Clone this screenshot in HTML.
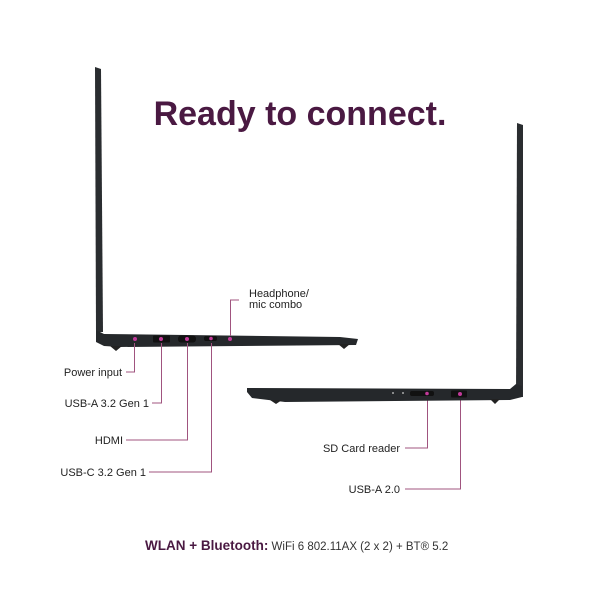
<!DOCTYPE html>
<html><head><style>
body{margin:0;width:600px;height:600px;background:#fff;overflow:hidden;font-family:"Liberation Sans",sans-serif}
</style></head><body>
<svg width="600" height="600" xmlns="http://www.w3.org/2000/svg">
<text x="300" y="125" text-anchor="middle" font-family="Liberation Sans" font-weight="bold" font-size="34" fill="#4a1942">Ready to connect.</text>
<!-- left laptop -->
<polygon points="95,67 101,69 103,332 96,332" fill="#2a2d30"/>
<path d="M96,330 L104,334 L340,337 L358,339 L356,345 L120,347 L104,346 L96,342 Z" fill="#25282b"/>
<path d="M110,346 L116,351 L122,346Z M338,344 L344,349 L350,344Z" fill="#222"/>
<g fill="#111"><rect x="153" y="335.5" width="17" height="7" rx="1"/><rect x="178" y="335.5" width="18" height="7" rx="3"/><rect x="204" y="336" width="13" height="5" rx="2"/></g>
<g fill="#c23a9a"><circle cx="135" cy="339" r="2"/><circle cx="161" cy="339" r="2"/><circle cx="187" cy="339" r="2"/><circle cx="211" cy="338.5" r="1.8"/><circle cx="230" cy="339" r="2"/></g>
<g stroke="#a0547f" stroke-width="1" fill="none">
<path d="M134.5,343 V372 H126"/>
<path d="M161.5,343 V403 H152"/>
<path d="M187.5,343 V440 H126"/>
<path d="M211.5,343 V472 H149"/>
<path d="M230.5,336 V300 H239"/>
<path d="M427.5,396 V448 H405"/>
<path d="M460.5,397 V489 H405"/>
</g>
<g font-family="Liberation Sans" font-size="11" fill="#222">
<text x="122" y="376" text-anchor="end">Power input</text>
<text x="149" y="407" text-anchor="end">USB-A 3.2 Gen 1</text>
<text x="123" y="444" text-anchor="end">HDMI</text>
<text x="146" y="476" text-anchor="end">USB-C 3.2 Gen 1</text>
<text x="249" y="297">Headphone/</text>
<text x="249" y="308">mic combo</text>
<text x="400" y="452" text-anchor="end">SD Card reader</text>
<text x="400" y="493" text-anchor="end">USB-A 2.0</text>
</g>
<!-- right laptop -->
<polygon points="517,123 523,125 523,397 516,397" fill="#2a2d30"/>
<path d="M247,388 L510,389 L516,384 L522,386 L522,397 L510,400 L285,402 L252,398 L247,392Z" fill="#25282b"/>
<path d="M270,400 L276,404 L282,400Z M490,399 L495,404 L500,399Z" fill="#222"/>
<g fill="#111"><rect x="410" y="391" width="24" height="5" rx="2"/><rect x="451" y="390.5" width="16" height="7" rx="1"/></g>
<g fill="#c23a9a"><circle cx="427" cy="393.5" r="1.8"/><circle cx="460" cy="394" r="2"/></g>
<circle cx="393" cy="393" r="1" fill="#aaa"/><circle cx="403" cy="393" r="1" fill="#aaa"/>
<text x="145" y="550" font-family="Liberation Sans" font-size="13.5"><tspan font-weight="bold" fill="#4a1942">WLAN + Bluetooth:</tspan><tspan fill="#333" font-size="11.5"> WiFi 6 802.11AX (2 x 2) + BT® 5.2</tspan></text>
</svg>
</body></html>
